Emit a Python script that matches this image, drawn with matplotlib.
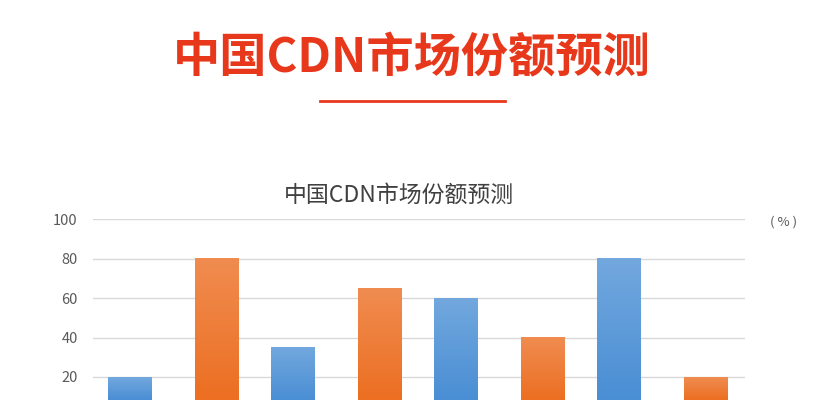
import numpy as np
import matplotlib.pyplot as plt
from matplotlib.colors import LinearSegmentedColormap

plt.rcParams['font.family'] = ['Noto Sans CJK SC', 'DejaVu Sans']

# data (the category axis is cut off in the source)
blue_pos = [0, 2, 4, 6]
blue_values = [20, 35, 60, 80]
orange_pos = [1, 3, 5, 7]
orange_values = [80, 65, 40, 20]
yticks = [20, 40, 60, 80, 100]

title_color = '#e8381c'
grid_color = '#d9d9d9'
tick_color = '#595959'

fig = plt.figure(figsize=(8.18, 4.0), dpi=100, facecolor='white')

# big page heading with underline
fig.text(0.503, 0.855, '中国CDN市场份额预测', ha='center', va='center',
         fontsize=34, fontweight='bold', color=title_color)
fig.add_artist(plt.Line2D([320 / 818, 505 / 818], [1 - 101 / 400, 1 - 101 / 400],
                          color=title_color, lw=2))

# chart axes: bottom of the plot runs off the image
ax = fig.add_axes([93 / 818, 0.0, (745 - 93) / 818, (400 - 219) / 400])
px_per_unit = 39.5 / 20
ymin = 100 - (400 - 219) / px_per_unit

ax.set_yticks(yticks)
ax.set_yticklabels([str(v) for v in yticks])
ax.tick_params(axis='y', length=0, pad=11, labelsize=10.5, labelcolor=tick_color)
ax.tick_params(axis='x', length=0, labelbottom=False)
for s in ax.spines.values():
    s.set_visible(False)
ax.grid(axis='y', color=grid_color, lw=1)
ax.set_axisbelow(True)

blue_cmap = LinearSegmentedColormap.from_list('b', ['#4a8ed4', '#72a8de'])
orange_cmap = LinearSegmentedColormap.from_list('o', ['#ec6f22', '#f08c50'])
grad = np.linspace(0, 1, 100).reshape(-1, 1)
width = 0.53


def gradient_bars(pos, vals, offset, cmap):
    bars = ax.bar(np.array(pos) + offset, vals, width=width, color='none', zorder=2)
    for b in bars:
        x0 = b.get_x()
        ax.imshow(grad, extent=[x0, x0 + b.get_width(), ymin, b.get_height()],
                  origin='lower', cmap=cmap, aspect='auto', zorder=2)


gradient_bars(blue_pos, blue_values, -0.045, blue_cmap)
gradient_bars(orange_pos, orange_values, 0.02, orange_cmap)
ax.set_xlim(-0.5, 7.5)
ax.set_ylim(ymin, 100)

# chart title (sits a little left of the plot centre)
fig.text(399 / 818, 1 - 195 / 400, '中国CDN市场份额预测', ha='center', va='center',
         fontsize=16.5, color='#404040')
fig.text(784 / 818, 1 - 222 / 400, '( % )', ha='center', va='center',
         fontsize=9.5, color=tick_color)

fig.savefig('out.png', dpi=100)
